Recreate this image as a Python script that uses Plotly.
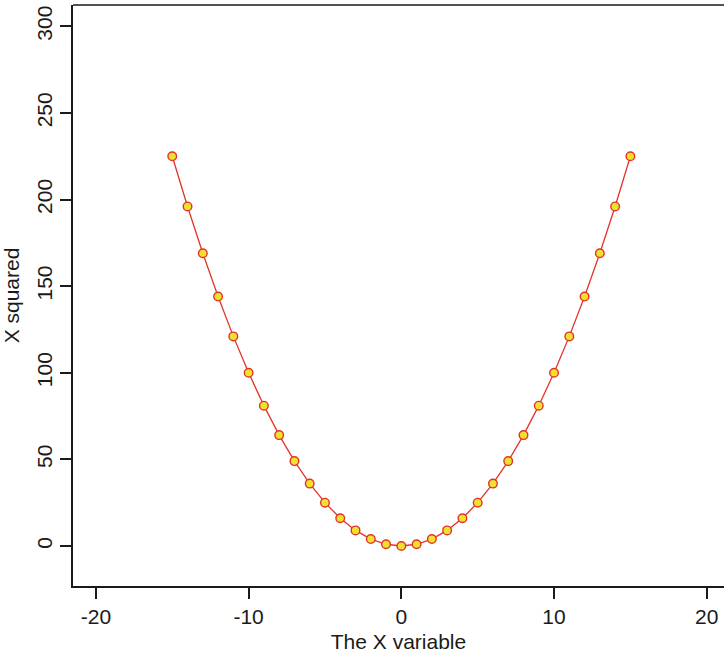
import plotly.graph_objects as go

x_values = [-15, -14, -13, -12, -11, -10, -9, -8, -7, -6, -5, -4, -3, -2, -1, 0,
            1, 2, 3, 4, 5, 6, 7, 8, 9, 10, 11, 12, 13, 14, 15]
y_values = [225, 196, 169, 144, 121, 100, 81, 64, 49, 36, 25, 16, 9, 4, 1, 0,
            1, 4, 9, 16, 25, 36, 49, 64, 81, 100, 121, 144, 169, 196, 225]
x_ticks = [-20, -10, 0, 10, 20]
y_ticks = [0, 50, 100, 150, 200, 250, 300]

FONT = "Liberation Sans, Arial, Helvetica, sans-serif"

fig = go.Figure()
fig.add_trace(go.Scatter(
    x=x_values, y=y_values, mode="lines+markers",
    line=dict(color="#e2332b", width=1.3),
    marker=dict(size=8.6, color="#f0e22c", line=dict(color="#e2332b", width=1.4)),
    showlegend=False,
))

fig.update_layout(
    width=724, height=654,
    margin=dict(l=73, r=0, t=5, b=68),
    paper_bgcolor="white", plot_bgcolor="white",
    font=dict(family=FONT, size=21, color="#1a1a1a"),
    xaxis=dict(
        range=[-21.5, 21.13], tickvals=x_ticks, ticktext=[str(v) for v in x_ticks],
        showgrid=False, zeroline=False, showline=True, linecolor="#1a1a1a", linewidth=1.5,
        ticks="outside", ticklen=11, tickwidth=1.5, tickcolor="#1a1a1a",
        title=dict(text="The X variable", standoff=7, font=dict(size=21)),
        tickfont=dict(size=21),
    ),
    yaxis=dict(
        range=[-23.1, 312.3], tickvals=y_ticks, ticktext=[str(v) for v in y_ticks],
        showgrid=False, zeroline=False, showline=True, linecolor="#1a1a1a", linewidth=1.5,
        ticks="outside", ticklen=11, tickwidth=1.5, tickcolor="#1a1a1a",
        tickangle=-90,
        title=dict(text="X squared", standoff=7, font=dict(size=21)),
        tickfont=dict(size=21),
    ),
)
fig.add_shape(type="line", xref="paper", yref="paper", x0=0, x1=1, y0=1, y1=1,
              line=dict(color="#1a1a1a", width=1.5))

fig.write_html("out.html")
